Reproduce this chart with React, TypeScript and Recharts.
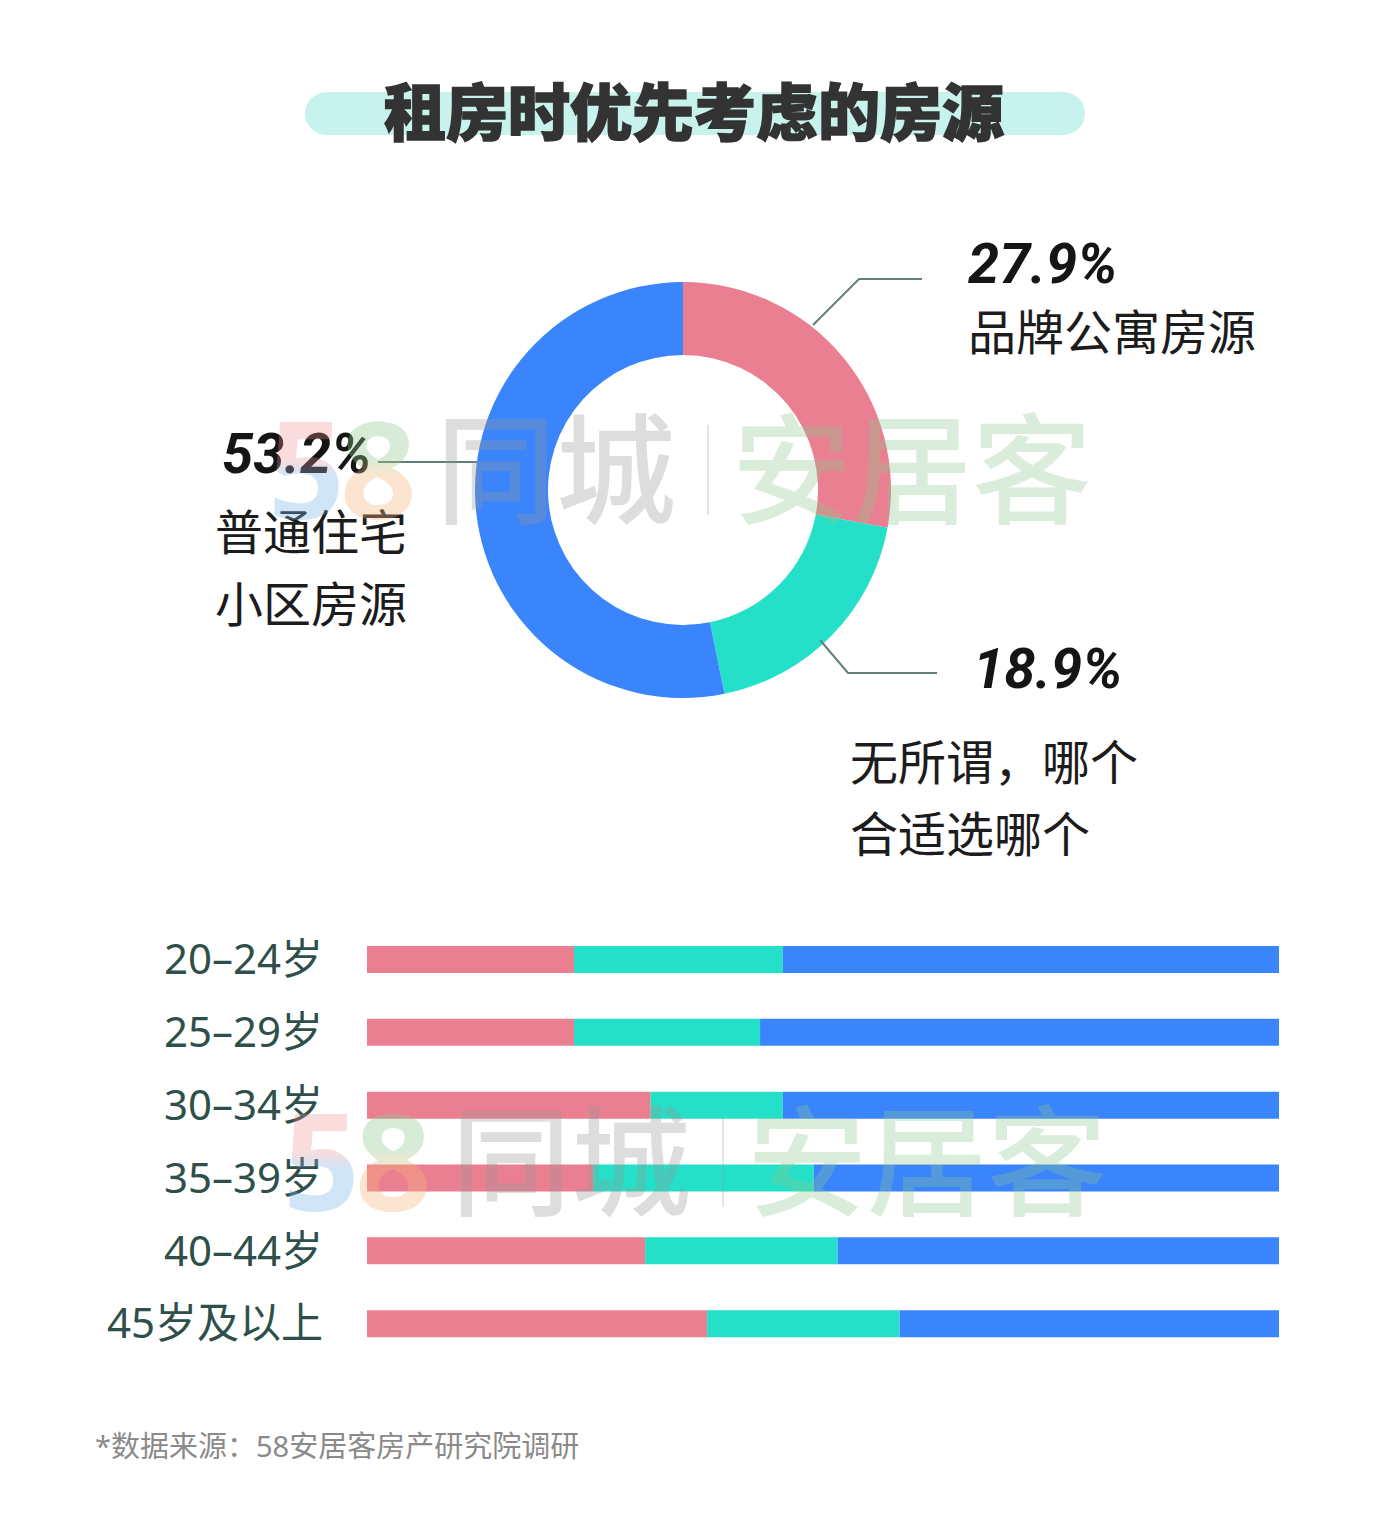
import { Bar, BarChart, Cell, Pie, PieChart, XAxis, YAxis } from "recharts";

const FONT = '"Noto Sans CJK SC", "Noto Sans", sans-serif';
const LATIN_FIRST = '"Noto Sans", "Noto Sans CJK SC", sans-serif';

// donut: share of renters by preferred listing type
const sliceLines = [["品牌公寓房源"], ["无所谓，哪个", "合适选哪个"], ["普通住宅", "小区房源"]];
const sliceValues = [27.9, 18.9, 53.2];
const sliceColors = ["#eb7f92", "#25e0c9", "#3a85fc"];

// stacked bars by age group (%)
const ageGroups = ["20–24岁", "25–29岁", "30–34岁", "35–39岁", "40–44岁", "45岁及以上"];
const brandShares = [22.7, 22.7, 31.1, 24.8, 30.5, 37.3];
const anyShares = [22.9, 20.4, 14.5, 24.2, 21.1, 21.1];
const normalShares = [54.4, 56.9, 54.4, 51.0, 48.4, 41.6];

const pieData = sliceValues.map((value, i) => ({ name: sliceLines[i].join(""), value }));
const barData = ageGroups.map((age, i) => ({
  age,
  brand: brandShares[i],
  any: anyShares[i],
  normal: normalShares[i],
}));

// leader line + text placement per slice, relative to the donut centre
const labelLayout = [
  { line: [[130, -165], [176, -211], [239, -211]], pct: [285, -207], name: [285, -140] },
  { line: [[137, 150], [165, 183], [254, 183]], pct: [290, 198], name: [167, 290] },
  { line: [[-206, -28], [-305, -28]], pct: [-461, -17], name: [-468, 60] },
];

function SliceLabel(props: any) {
  const { cx, cy, index, value } = props;
  const lay = labelLayout[index];
  const pts = lay.line.map(([x, y]) => `${cx + x},${cy + y}`).join(" ");
  return (
    <g>
      <polyline points={pts} fill="none" stroke="#61807b" strokeWidth={2} />
      <text
        x={cx + lay.pct[0]}
        y={cy + lay.pct[1]}
        fontFamily="Roboto, sans-serif"
        fontStyle="italic"
        fontWeight={700}
        fontSize={56}
        fill="#151515"
      >
        {`${value.toFixed(1)}%`}
      </text>
      {sliceLines[index].map((t, k) => (
        <text
          key={k}
          x={cx + lay.name[0]}
          y={cy + lay.name[1] + k * 72}
          fontFamily={FONT}
          fontSize={48}
          fill="#1c1c1c"
        >
          {t}
        </text>
      ))}
    </g>
  );
}

function Watermark({ x, y }: { x: number; y: number }) {
  return (
    <g transform={`translate(${x},${y})`} fontFamily={FONT} fontSize={120} fontWeight={500}>
      <text x={0} y={4} fontSize={134} fontWeight={700} fontFamily={LATIN_FIRST} fill="url(#wm5)">5</text>
      <text x={72} y={4} fontSize={134} fontWeight={700} fontFamily={LATIN_FIRST} fill="url(#wm8)">8</text>
      <text x={168} y={0} fill="rgba(150,150,150,0.32)">同城</text>
      <line x1={440} y1={-90} x2={440} y2={0} stroke="rgba(150,150,150,0.25)" strokeWidth={2} />
      <text x={464} y={0} fill="rgba(140,200,140,0.32)">安居客</text>
    </g>
  );
}

export default function App() {
  return (
    <div style={{ position: "relative", width: 1400, height: 1523, background: "#fff", fontFamily: FONT }}>
      <style>{`body{margin:0}`}</style>
      <svg width={1400} height={1523} style={{ position: "absolute", left: 0, top: 0 }}>
        <rect x={305} y={92} width={780} height={43} rx={21.5} fill="#c8f3ec" />
        <text
          x={694}
          y={136}
          textAnchor="middle"
          fontFamily={FONT}
          fontWeight={900}
          fontSize={62}
          fill="#333"
          stroke="#333"
          strokeWidth={1.5}
        >
          租房时优先考虑的房源
        </text>
        <text x={95} y={1457} fontFamily={LATIN_FIRST} fontSize={29} fill="#8a8a8a">
          *数据来源：58安居客房产研究院调研
        </text>
      </svg>

      <div style={{ position: "absolute", left: 0, top: 0 }}>
        <PieChart width={1400} height={880} margin={{ top: 0, right: 0, bottom: 0, left: 0 }}>
          <Pie
            data={pieData}
            dataKey="value"
            cx={683}
            cy={490}
            innerRadius={135}
            outerRadius={208}
            startAngle={90}
            endAngle={-270}
            stroke="none"
            labelLine={false}
            label={SliceLabel}
            isAnimationActive={false}
          >
            {pieData.map((_, i) => (
              <Cell key={i} fill={sliceColors[i]} />
            ))}
          </Pie>
        </PieChart>
      </div>

      <div style={{ position: "absolute", left: 0, top: 923 }}>
        <BarChart
          width={1400}
          height={437}
          data={barData}
          layout="vertical"
          margin={{ top: 0, right: 121, bottom: 0, left: 0 }}
        >
          <XAxis type="number" domain={[0, 100]} hide />
          <YAxis
            type="category"
            dataKey="age"
            width={367}
            tickLine={false}
            axisLine={false}
            tickSize={0}
            tickMargin={44}
            tick={{ fill: "#2e4f4a", fontSize: 42, fontFamily: LATIN_FIRST }}
          />
          <Bar dataKey="brand" stackId="a" fill={sliceColors[0]} barSize={27} isAnimationActive={false} />
          <Bar dataKey="any" stackId="a" fill={sliceColors[1]} barSize={27} isAnimationActive={false} />
          <Bar dataKey="normal" stackId="a" fill={sliceColors[2]} barSize={27} isAnimationActive={false} />
        </BarChart>
      </div>

      <svg width={1400} height={1523} style={{ position: "absolute", left: 0, top: 0, pointerEvents: "none" }}>
        <defs>
          <linearGradient id="wm5" x1="0" y1="0" x2="0" y2="1">
            <stop offset="0.45" stopColor="rgba(240,140,140,0.3)" />
            <stop offset="0.55" stopColor="rgba(120,180,230,0.35)" />
          </linearGradient>
          <linearGradient id="wm8" x1="0" y1="0" x2="0" y2="1">
            <stop offset="0.45" stopColor="rgba(140,200,140,0.35)" />
            <stop offset="0.55" stopColor="rgba(245,180,120,0.35)" />
          </linearGradient>
        </defs>
        <Watermark x={268} y={515} />
        <Watermark x={283} y={1207} />
      </svg>
    </div>
  );
}
